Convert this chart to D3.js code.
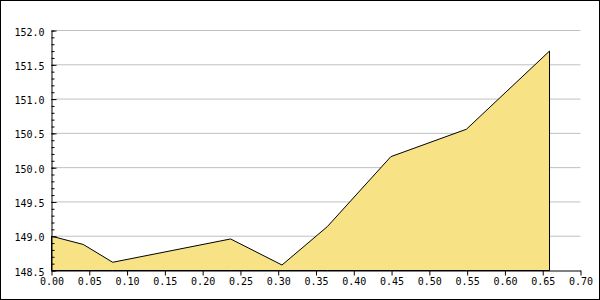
<!DOCTYPE html>
<html>
<head>
<meta charset="utf-8">
<script src="https://cdn.jsdelivr.net/npm/d3@7"></script>
<style>
	body { margin: 0; background: #fff; }
	svg text { font-family: "DejaVu Sans Mono", monospace; font-size: 10px; fill: #000; }
</style>
</head>
<body>
<div id="chart"></div>
<script>
// values
var xValues = [0, 0.042, 0.081, 0.237, 0.305, 0.365, 0.449, 0.549, 0.659];
var yValues = [149.0, 148.88, 148.62, 148.96, 148.58, 149.14, 150.16, 150.56, 151.70];
var xTicks = [0, 0.05, 0.10, 0.15, 0.20, 0.25, 0.30, 0.35, 0.40, 0.45, 0.50, 0.55, 0.60, 0.65, 0.70];
var yTicks = [148.5, 149.0, 149.5, 150.0, 150.5, 151.0, 151.5, 152.0];
var yMinorTicks = d3.range(1485, 1521, 1).map(function (d) { return d / 10; });

var width = 600,
	height = 300;

var svg = d3.select("#chart")
	.append("svg")
	.attr("width", width)
	.attr("height", height);

// outer frame
svg.append("rect")
	.attr("x", 0.5)
	.attr("y", 0.5)
	.attr("width", width - 1)
	.attr("height", height - 1)
	.attr("fill", "#fff")
	.attr("stroke", "#000");

var x = d3.scaleLinear().domain([0, 0.7]).range([51.5, 580.5]);
var y = d3.scaleLinear().domain([148.5, 152]).range([270.5, 30.5]);

// horizontal grid lines
svg.selectAll("line.grid")
	.data(yTicks.slice(1))
	.enter()
	.append("line")
	.attr("class", "grid")
	.attr("x1", x(0) + 4)
	.attr("x2", x(0.7))
	.attr("y1", function (d) { return y(d); })
	.attr("y2", function (d) { return y(d); })
	.attr("stroke", "#c0c0c0")
	.attr("stroke-width", 1);

var data = xValues.map(function (d, i) {
	return { x: d, y: yValues[i] };
});

var area = d3.area()
	.x(function (d) { return x(d.x); })
	.y0(y(148.5))
	.y1(function (d) { return y(d.y); });

svg.append("path")
	.datum(data)
	.attr("d", area)
	.attr("fill", "#f7e286")
	.attr("stroke", "#000")
	.attr("stroke-width", 1);

// y axis: major ticks point inward, minor ticks every 0.1
svg.append("g")
	.attr("transform", "translate(" + x(0) + ",0)")
	.call(d3.axisLeft(y).tickValues(yMinorTicks).tickSizeInner(-3).tickSizeOuter(0).tickFormat(""))
	.call(function (g) { g.select(".domain").remove(); });

svg.append("g")
	.attr("transform", "translate(" + x(0) + ",0)")
	.call(d3.axisLeft(y).tickValues(yTicks).tickSizeInner(-5).tickSizeOuter(0).tickPadding(7).tickFormat(d3.format(".1f")))
	.call(function (g) {
		g.selectAll("text").attr("dy", "0.45em").style("font-family", null).style("font-size", null);
		g.attr("font-family", null).attr("font-size", null);
	});

// x axis
svg.append("g")
	.attr("transform", "translate(0," + y(148.5) + ")")
	.call(d3.axisBottom(x).tickValues(xTicks).tickSize(5).tickSizeOuter(0).tickPadding(2).tickFormat(d3.format(".2f")))
	.call(function (g) {
		g.attr("font-family", null).attr("font-size", null);
	});

svg.selectAll(".tick line").attr("stroke", "#000");
svg.selectAll(".domain").attr("stroke", "#000");
</script>
</body>
</html>
